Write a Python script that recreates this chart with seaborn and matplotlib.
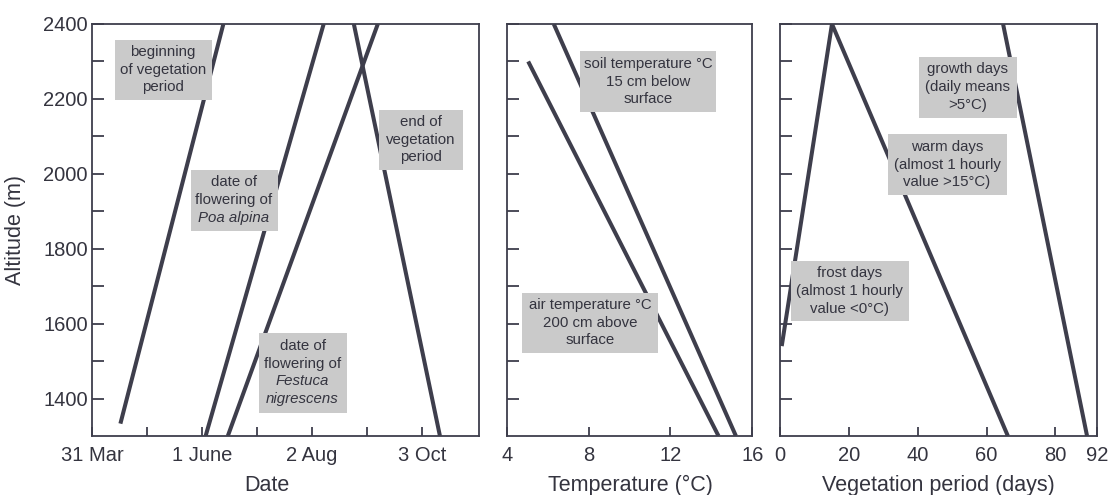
import matplotlib
matplotlib.use("Agg")
import matplotlib.pyplot as plt
import seaborn as sns
import pandas as pd
from matplotlib.patches import Rectangle

# ---------------- data ----------------
# Panel 1: day of year vs altitude (m)
begin_day = [106, 164]
begin_alt = [1333, 2400]
poa_day = [154, 220.5]
poa_alt = [1300, 2400]
festuca_day = [166.5, 251]
festuca_alt = [1300, 2400]
end_day = [237.5, 286]
end_alt = [2400, 1300]
date_ticks = [90, 121, 152, 183, 214, 245, 276]
date_labels = ["31 Mar", "", "1 June", "", "2 Aug", "", "3 Oct"]

# Panel 2: temperature (°C) vs altitude
soil_temp = [6.3, 15.2]
soil_alt = [2400, 1300]
air_temp = [5.05, 14.35]
air_alt = [2300, 1300]
temp_ticks = [4, 8, 12, 16]

# Panel 3: days vs altitude
frost_days = [0.5, 15.1]
frost_alt = [1540, 2400]
warm_days = [15.1, 66.2]
warm_alt = [2400, 1300]
growth_days = [64.8, 89.2]
growth_alt = [2400, 1300]
days_ticks = [0, 20, 40, 60, 80, 92]

alt_ticks = list(range(1400, 2401, 100))
alt_labels = [str(a) if a % 200 == 0 else "" for a in alt_ticks]

# ---------------- style ----------------
sns.set_theme(style="white")
plt.rcParams["font.family"] = ["Liberation Sans", "DejaVu Sans"]
INK = "#34343f"
LINE = "#3e3e4c"
BOX = "#cacaca"
plt.rcParams["text.color"] = INK
plt.rcParams["axes.labelcolor"] = INK
plt.rcParams["xtick.color"] = INK
plt.rcParams["ytick.color"] = INK

W, H = 1111, 495
fig = plt.figure(figsize=(W / 100, H / 100), dpi=100)
fig.patch.set_facecolor("white")

top_px, bot_px = 24, 436
def add_ax(l, r):
    return fig.add_axes([l / W, 1 - bot_px / H, (r - l) / W, (bot_px - top_px) / H])

ax1 = add_ax(92, 479)
ax2 = add_ax(506.7, 752.3)
ax3 = add_ax(780, 1096.7)


def draw(ax, series):
    rows = []
    for name, xs, ys in series:
        for x, y in zip(xs, ys):
            rows.append({"series": name, "x": x, "alt": y})
    df = pd.DataFrame(rows)
    sns.lineplot(data=df, x="x", y="alt", units="series", estimator=None,
                 sort=False, color=LINE, lw=2.9, ax=ax, solid_capstyle="butt")


draw(ax1, [("begin", begin_day, begin_alt), ("poa", poa_day, poa_alt),
           ("festuca", festuca_day, festuca_alt), ("end", end_day, end_alt)])
draw(ax2, [("soil", soil_temp, soil_alt), ("air", air_temp, air_alt)])
draw(ax3, [("frost", frost_days, frost_alt), ("warm", warm_days, warm_alt),
           ("growth", growth_days, growth_alt)])

ax1.set_xlim(90, 308)
ax2.set_xlim(4, 16)
ax3.set_xlim(0, 92)

for ax in (ax1, ax2, ax3):
    ax.set_ylim(1300, 2400)
    ax.set_yticks(alt_ticks)
    for s in ax.spines.values():
        s.set_color(LINE)
        s.set_linewidth(1.3)
    ax.tick_params(axis="y", which="major", left=True, direction="in",
                   length=8.5, width=1.3, pad=3, labelsize=14.5, color=LINE)
    ax.tick_params(axis="x", which="major", bottom=True, direction="in",
                   length=6.5, width=1.3, pad=7, labelsize=14.5, color=LINE)
    ax.set_facecolor("white")

ax1.set_yticklabels(alt_labels)
ax2.set_yticklabels([])
ax3.set_yticklabels([])
ax1.set_xticks(date_ticks)
ax1.set_xticklabels(date_labels)
ax2.set_xticks(temp_ticks)
ax2.set_xticklabels([str(t) for t in temp_ticks])
ax3.set_xticks(days_ticks)
ax3.set_xticklabels([str(t) for t in days_ticks])

ax1.set_ylabel("Altitude (m)", fontsize=15.5)
ax2.set_ylabel("")
ax3.set_ylabel("")
ax1.set_xlabel("Date", fontsize=15.5)
ax2.set_xlabel("Temperature (°C)", fontsize=15.5)
ax3.set_xlabel("Vegetation period (days)", fontsize=15.5)
ax1.xaxis.set_label_coords(0.452, -0.095)
ax2.xaxis.set_label_coords(0.502, -0.095)
ax3.xaxis.set_label_coords(0.5, -0.095)
ax1.yaxis.set_label_coords(-0.17, 0.5)

AXH = bot_px - top_px


def label_box(ax, axw, cx, cy, w, h, lines, italic=()):
    # cx, cy, w, h in pixels relative to axes (cx from left, cy from top)
    fx = cx / axw
    fy = 1 - cy / AXH
    ax.add_patch(Rectangle((fx - w / 2 / axw, fy - h / 2 / AXH), w / axw, h / AXH,
                           transform=ax.transAxes, facecolor=BOX,
                           edgecolor="none", zorder=5, clip_on=False))
    step = 17.5 / AXH
    n = len(lines)
    for i, txt in enumerate(lines):
        y = fy + ((n - 1) / 2 - i) * step
        ax.text(fx, y, txt, transform=ax.transAxes, ha="center", va="center",
                fontsize=10.8, color=INK, zorder=6,
                style="italic" if i in italic else "normal")


w1, w2, w3 = 387, 245.6, 316.7
label_box(ax1, w1, 163 - 92, 70 - 24, 97, 59,
          ["beginning", "of vegetation", "period"])
label_box(ax1, w1, 234 - 92, 200 - 24, 87, 61,
          ["date of", "flowering of", "Poa alpina"], italic=(2,))
label_box(ax1, w1, 421 - 92, 140 - 24, 84, 60,
          ["end of", "vegetation", "period"])
label_box(ax1, w1, 302.5 - 92, 372.5 - 24, 88, 80,
          ["date of", "flowering of", "Festuca", "nigrescens"], italic=(2, 3))

label_box(ax2, w2, 648 - 506.7, 81.7 - 24, 136, 61,
          ["soil temperature °C", "15 cm below", "surface"])
label_box(ax2, w2, 590 - 506.7, 323 - 24, 136, 60,
          ["air temperature °C", "200 cm above", "surface"])

label_box(ax3, w3, 967.5 - 780, 87 - 24, 98, 61,
          ["growth days", "(daily means", ">5°C)"])
label_box(ax3, w3, 947 - 780, 164.7 - 24, 119, 61,
          ["warm days", "(almost 1 hourly", "value >15°C)"])
label_box(ax3, w3, 849.5 - 780, 291 - 24, 118, 60,
          ["frost days", "(almost 1 hourly", "value <0°C)"])

fig.savefig("out.png", dpi=100, facecolor="white")
